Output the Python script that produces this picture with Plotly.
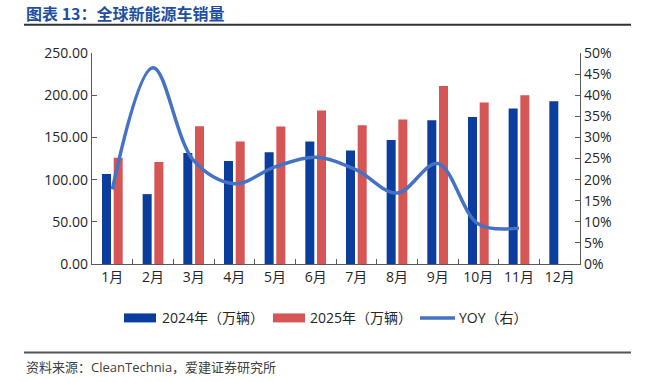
import plotly.graph_objects as go

months = ["1月", "2月", "3月", "4月", "5月", "6月", "7月", "8月", "9月", "10月", "11月", "12月"]
sales_2024 = [106.5, 82.8, 131.4, 121.9, 132.5, 145.2, 134.5, 147.0, 170.4, 174.3, 184.2, 192.9]
sales_2025 = [125.8, 121.0, 163.3, 145.2, 163.0, 181.9, 164.5, 171.2, 211.0, 191.3, 200.0, None]
yoy = [0.177, 0.465, 0.245, 0.19, 0.23, 0.253, 0.223, 0.168, 0.238, 0.095, 0.085]

name_2024 = "2024年（万辆）"
name_2025 = "2025年（万辆）"
name_yoy = "YOY（右）"
title_text = "图表 13：全球新能源车销量"
source_text = "资料来源：CleanTechnia，爱建证券研究所"

C_BLUE = "#0A3D9E"
C_RED = "#D65555"
C_LINE = "#4472C4"
FONT = "Open Sans, Noto Sans CJK SC, sans-serif"

W, H = 645, 382
# plot area in window pixels
L, R, T, B = 92, 580, 52.7, 264

def px(x):
    return (x - L) / (R - L)

def py(y):
    return (B - y) / (B - T)

fig = go.Figure()
fig.add_trace(go.Bar(x=months, y=sales_2024, name=name_2024, marker_color=C_BLUE,
                     marker_line_width=0, showlegend=False))
fig.add_trace(go.Bar(x=months, y=sales_2025, name=name_2025, marker_color=C_RED,
                     marker_line_width=0, showlegend=False))
fig.add_trace(go.Scatter(x=months[:len(yoy)], y=yoy, name=name_yoy, yaxis="y2",
                         mode="lines", line=dict(color=C_LINE, width=3.5, shape="spline", smoothing=1.0),
                         showlegend=False))

axis_col = "#595959"
fig.update_layout(
    width=W, height=H,
    margin=dict(l=L, r=W - R, t=T, b=H - B, pad=0),
    paper_bgcolor="white", plot_bgcolor="white",
    font=dict(family=FONT, size=14, color="#262626"),
    barmode="group", bargap=0.425, bargroupgap=0.23,
    xaxis=dict(showline=True, linecolor=axis_col, linewidth=1.3, ticks="inside", ticklen=5,
               tickcolor=axis_col, tickson="boundaries", showgrid=False,
               tickfont=dict(size=14, color="#262626")),
    yaxis=dict(range=[0, 250], dtick=50, tickformat=".2f", showline=True, linecolor=axis_col,
               linewidth=1.3, ticks="inside", ticklen=5, tickcolor=axis_col, showgrid=False,
               zeroline=False, tickfont=dict(size=14, color="#262626")),
    yaxis2=dict(range=[0, 0.5], dtick=0.05, tickformat=".0%", overlaying="y", side="right",
                showline=True, linecolor=axis_col, linewidth=1.3, ticks="inside", ticklen=5,
                tickcolor=axis_col, showgrid=False, zeroline=False,
                tickfont=dict(size=14, color="#262626")),
)

shapes = []
annotations = []
# title and rules
annotations.append(dict(text=f"<b>{title_text}</b>", xref="paper", yref="paper", x=px(24), y=py(13),
                        xanchor="left", yanchor="middle", showarrow=False,
                        font=dict(size=16, color="#1F4FA3", family="Noto Sans CJK SC")))
shapes.append(dict(type="line", xref="paper", yref="paper", x0=px(24), x1=px(631), y0=py(24.5), y1=py(24.5),
                   line=dict(color="#333333", width=2)))
shapes.append(dict(type="line", xref="paper", yref="paper", x0=px(24), x1=px(631), y0=py(352.7), y1=py(352.7),
                   line=dict(color="#555555", width=2)))
annotations.append(dict(text=source_text, xref="paper", yref="paper", x=px(24), y=py(367),
                        xanchor="left", yanchor="middle", showarrow=False,
                        font=dict(size=13, color="#404040", family=FONT)))
# custom legend
ly = 318
legend_items = [
    ("rect", C_BLUE, 124, 156, name_2024, 160),
    ("rect", C_RED, 273, 305, name_2025, 308),
    ("line", C_LINE, 420, 455, name_yoy, 457),
]
for kind, col, x0, x1, label, tx in legend_items:
    if kind == "rect":
        shapes.append(dict(type="rect", xref="paper", yref="paper", x0=px(x0), x1=px(x1),
                           y0=py(ly + 4.5), y1=py(ly - 4.5), fillcolor=col, line=dict(width=0)))
    else:
        shapes.append(dict(type="line", xref="paper", yref="paper", x0=px(x0), x1=px(x1),
                           y0=py(ly), y1=py(ly), line=dict(color=col, width=3.5)))
    annotations.append(dict(text=label, xref="paper", yref="paper", x=px(tx), y=py(ly),
                            xanchor="left", yanchor="middle", showarrow=False,
                            font=dict(size=14, color="#262626", family=FONT)))

fig.update_layout(shapes=shapes, annotations=annotations)
# remove the default 8px page margin so the 645x382 figure fills the window
fig.write_html("out.html", config={"displayModeBar": False},
               post_script="document.body.style.margin='0';document.body.style.overflow='hidden';")
